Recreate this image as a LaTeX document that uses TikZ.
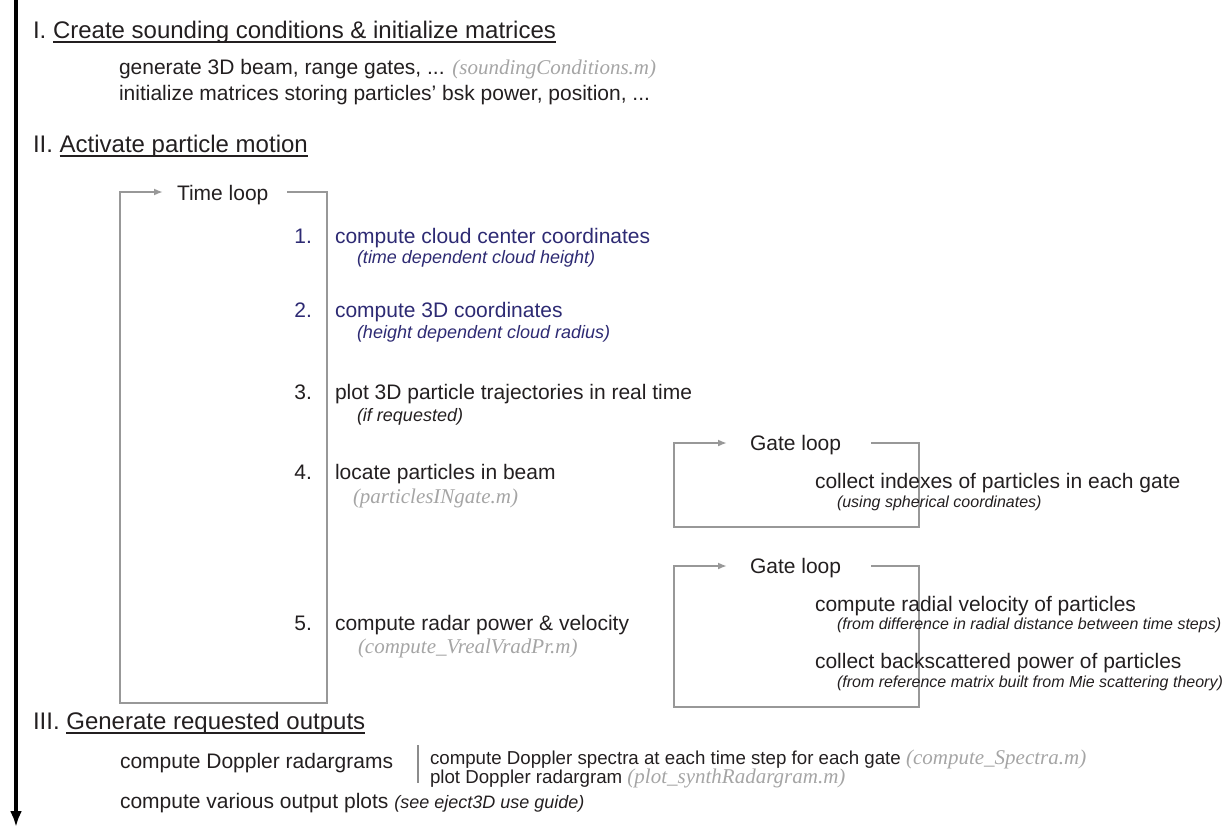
\documentclass[tikz,border=0pt]{standalone}
\usepackage{fontspec}
\setmainfont{Liberation Sans}
\newfontfamily\tnr{Liberation Serif}
\usetikzlibrary{arrows.meta}
\definecolor{ink}{RGB}{35,31,32}
\definecolor{navy}{RGB}{45,42,115}
\definecolor{fname}{RGB}{165,165,165}
\definecolor{loopc}{RGB}{152,152,152}
\definecolor{sepc}{RGB}{140,140,140}
\newcommand\fhead{\fontsize{24}{28}\selectfont}
\newcommand\fbody{\fontsize{21}{25}\selectfont}
\newcommand\fsubA{\fontsize{18}{21}\selectfont}
\newcommand\fsubB{\fontsize{16}{19}\selectfont}
\newcommand\fsmall{\fontsize{18.7}{22}\selectfont}
\newcommand\mfile[1]{{\tnr\itshape\color{fname}#1}}
\tikzset{
  txt/.style={inner sep=0pt, outer sep=0pt, anchor=base west, text=ink, font=\fbody},
  head/.style={txt, font=\fhead},
  num/.style={txt, anchor=base east},
  subA/.style={txt, font=\fsubA\itshape},
  subB/.style={txt, font=\fsubB\itshape},
  smalltxt/.style={txt, font=\fsmall},
  uline/.style={draw=ink, line width=1.3pt},
  loopline/.style={draw=loopc, line width=2.5pt, -{Latex[length=9pt,width=7pt]}},
  mainarrow/.style={draw=black, line width=4pt, -{Latex[length=16pt,width=12pt]}},
  sepline/.style={draw=sepc, line width=1.5pt}
}
\begin{document}
\begin{tikzpicture}[x=1pt,y=-1pt]
\useasboundingbox (0,0) rectangle (1227,827);
% main timeline arrow
\coordinate (top) at (16,0);
\coordinate (bot) at (16,827);
\draw[mainarrow] (top) -- (bot);

% Section I
\node[head] (h1n) at (33,38) {I.};
\node[head] (h1) at ([xshift=6.7pt]h1n.base east) {Create sounding conditions \& initialize matrices};
\draw[uline] ([yshift=-4pt]h1.base west) -- ([yshift=-4pt]h1.base east);
\node[txt] (gen) at (119,74) {generate 3D beam, range gates, ... \mfile{(soundingConditions.m)}};
\node[txt] (init) at (119,100) {initialize matrices storing particles' bsk power, position, ...};

% Section II
\node[head] (h2n) at (33,152) {II.};
\node[head] (h2) at ([xshift=6.7pt]h2n.base east) {Activate particle motion};
\draw[uline] ([yshift=-4pt]h2.base west) -- ([yshift=-4pt]h2.base east);

% Time loop
\node[txt] (tl) at (177,200) {Time loop};
\coordinate (tlA) at (287,192);
\coordinate (tlB) at (327,192);
\coordinate (tlC) at (327,703);
\coordinate (tlD) at (120,703);
\coordinate (tlE) at (120,192);
\coordinate (tlF) at (163,192);
\draw[loopline] (tlA) -- (tlB) -- (tlC) -- (tlD) -- (tlE) -- (tlF);

\node[num, text=navy] (n1) at (312,243) {1.};
\node[txt, text=navy] (s1) at (335,243) {compute cloud center coordinates};
\node[subA, text=navy] (d1) at (357,263) {(time dependent cloud height)};

\node[num, text=navy] (n2) at (312,317) {2.};
\node[txt, text=navy] (s2) at (335,317) {compute 3D coordinates};
\node[subA, text=navy] (d2) at (357,338) {(height dependent cloud radius)};

\node[num] (n3) at (312,399) {3.};
\node[txt] (s3) at (335,399) {plot 3D particle trajectories in real time};
\node[subA] (d3) at (357,421) {(if requested)};

\node[num] (n4) at (312,479) {4.};
\node[txt] (s4) at (335,479) {locate particles in beam};
\node[txt] (d4) at (353,503) {\mfile{(particlesINgate.m)}};

\node[num] (n5) at (312,630) {5.};
\node[txt] (s5) at (335,630) {compute radar power \& velocity};
\node[txt] (d5) at (358,653) {\mfile{(compute\_VrealVradPr.m)}};

% Gate loop 1
\node[txt] (g1) at (750,450) {Gate loop};
\coordinate (gaA) at (871,443);
\coordinate (gaB) at (919,443);
\coordinate (gaC) at (919,527);
\coordinate (gaD) at (674,527);
\coordinate (gaE) at (674,443);
\coordinate (gaF) at (727,443);
\draw[loopline] (gaA) -- (gaB) -- (gaC) -- (gaD) -- (gaE) -- (gaF);
\node[txt] (g1t) at (815,488) {collect indexes of particles in each gate};
\node[subB] (g1d) at (837,507) {(using spherical coordinates)};

% Gate loop 2
\node[txt] (g2) at (750,573) {Gate loop};
\coordinate (gbA) at (871,566);
\coordinate (gbB) at (919,566);
\coordinate (gbC) at (919,707);
\coordinate (gbD) at (674,707);
\coordinate (gbE) at (674,566);
\coordinate (gbF) at (727,566);
\draw[loopline] (gbA) -- (gbB) -- (gbC) -- (gbD) -- (gbE) -- (gbF);
\node[txt] (g2t) at (815,611) {compute radial velocity of particles};
\node[subB] (g2d) at (837,629) {(from difference in radial distance between time steps)};
\node[txt] (g3t) at (815,668) {collect backscattered power of particles};
\node[subB] (g3d) at (837,687) {(from reference matrix built from Mie scattering theory)};

% Section III
\node[head] (h3n) at (33,729) {III.};
\node[head] (h3) at ([xshift=6.7pt]h3n.base east) {Generate requested outputs};
\draw[uline] ([yshift=-4pt]h3.base west) -- ([yshift=-4pt]h3.base east);

\node[txt] (dr) at (120,768) {compute Doppler radargrams};
\coordinate (sepT) at (418,745);
\coordinate (sepB) at (418,783);
\draw[sepline] (sepT) -- (sepB);
\node[smalltxt] (sp) at (430,764) {compute Doppler spectra at each time step for each gate {\fbody\mfile{(compute\_Spectra.m)}}};
\node[smalltxt] (pr) at (430,783) {plot Doppler radargram {\fbody\mfile{(plot\_synthRadargram.m)}}};
\node[txt] (vo) at (120,808) {compute various output plots {\fsubA\itshape(see eject3D use guide)}};
\end{tikzpicture}
\end{document}
